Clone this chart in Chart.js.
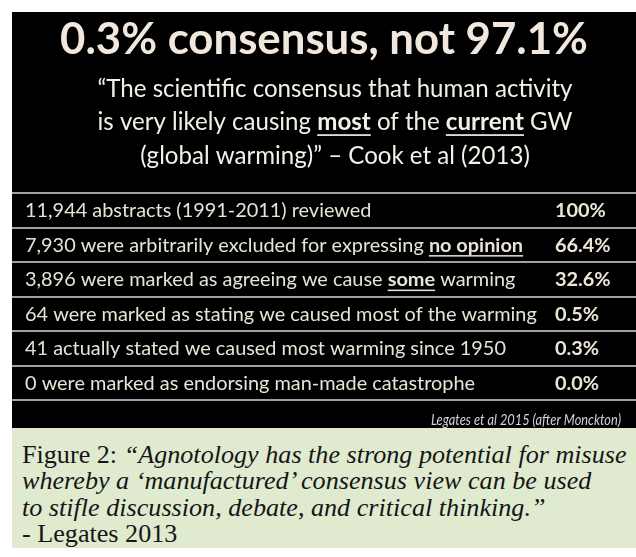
<!DOCTYPE html>
<html><head><meta charset="utf-8">
<script src="https://cdn.jsdelivr.net/npm/chart.js@4.4.1/dist/chart.umd.min.js"></script>
<style>
html,body{margin:0;padding:0;background:#fff;width:636px;height:557px;overflow:hidden}
#wrap{position:absolute;left:12px;top:12px;width:624px;height:416px;background:#000}
#cap{position:absolute;left:12px;top:428px;width:624px;height:120px;background:#dfeacf;box-sizing:border-box;padding:14px 0 0 10px;font-family:"Liberation Serif",serif;color:#161616;line-height:26.3px;white-space:nowrap}
</style></head><body>
<div id="wrap"><canvas id="c" width="624" height="416"></canvas></div>
<div id="cap"></div>
<script>
// ---- data ----
const titleText = '0.3% consensus, not 97.1%';
const subtitleLines = [
  '\u201CThe scientific consensus that human activity',
  'is very likely causing most of the current GW',
  '(global warming)\u201D \u2013 Cook et al (2013)'
];
const subtitleEmphasis = [[], ['most', 'current'], []];
const categories = [
  '11,944 abstracts (1991-2011) reviewed',
  '7,930 were arbitrarily excluded for expressing no opinion',
  '3,896 were marked as agreeing we cause some warming',
  '64 were marked as stating we caused most of the warming',
  '41 actually stated we caused most warming since 1950',
  '0 were marked as endorsing man-made catastrophe'
];
const rowEmphasis = [[], ['no opinion'], ['some'], [], [], []];
const percentValues = [100, 66.4, 32.6, 0.5, 0.3, 0.0];
const percentLabels = ['100%', '66.4%', '32.6%', '0.5%', '0.3%', '0.0%'];
const sourceNote = 'Legates et al 2015 (after Monckton)';
const captionLead = 'Figure 2: ';
const captionQuote = [
  '\u201CAgnotology has the strong potential for misuse',
  'whereby a \u2018manufactured\u2019 consensus view can be used',
  'to stifle discussion, debate, and critical thinking.\u201D'
];
const captionCredit = '- Legates 2013';

// ---- helpers ----
const canvas = document.getElementById('c');
const ctx0 = canvas.getContext('2d');
const SANS = 'Lato, "Open Sans", sans-serif';
function fit(text, font, target) {
  ctx0.font = font.replace('SZ', '20px');
  return 20 * target / ctx0.measureText(text).width;
}
const titleSize = fit(titleText, 'bold SZ ' + SANS, 528);
const subSize = fit(subtitleLines[0], 'SZ ' + SANS, 475);
const rowSize = fit(categories[3], 'SZ ' + SANS, 512);

function segments(line, words) {
  let segs = [{t: line, e: false}];
  words.forEach(w => {
    const out = [];
    segs.forEach(s => {
      if (s.e || s.t.indexOf(w) < 0) { out.push(s); return; }
      const i = s.t.indexOf(w);
      if (i > 0) out.push({t: s.t.slice(0, i), e: false});
      out.push({t: w, e: true});
      if (i + w.length < s.t.length) out.push({t: s.t.slice(i + w.length), e: false});
    });
    segs = out;
  });
  return segs;
}
function drawRich(ctx, segs, x, cy, align, size, color) {
  const fN = size + 'px ' + SANS, fB = 'bold ' + size + 'px ' + SANS;
  let total = 0;
  segs.forEach(s => { ctx.font = s.e ? fB : fN; s.w = ctx.measureText(s.t).width; total += s.w; });
  let cx = align === 'center' ? x - total / 2 : x;
  const base = cy + size * 0.36;
  ctx.fillStyle = color; ctx.strokeStyle = color;
  ctx.textAlign = 'left'; ctx.textBaseline = 'alphabetic';
  segs.forEach(s => {
    ctx.font = s.e ? fB : fN;
    ctx.fillText(s.t, cx, base);
    if (s.e) {
      ctx.fillRect(cx, base + size * 0.16, s.w, Math.max(1.5, size * 0.07));
    }
    cx += s.w;
  });
}

const tablePlugin = {
  id: 'tableText',
  afterDatasetsDraw(chart) {
    const ctx = chart.ctx, ys = chart.scales.y, area = chart.chartArea;
    ctx.save();
    // subtitle
    subtitleLines.forEach((l, i) => {
      drawRich(ctx, segments(l, subtitleEmphasis[i]), 323, 76 + i * 33.7, 'center', subSize, '#f3f0e8');
    });
    // rows
    categories.forEach((c, i) => {
      const y = ys.getPixelForValue(i);
      drawRich(ctx, segments(c, rowEmphasis[i]), 13, y, 'left', rowSize, '#e7e3d6');
      ctx.font = 'bold ' + rowSize + 'px ' + SANS;
      ctx.fillStyle = '#ece6d6';
      ctx.textAlign = 'left'; ctx.textBaseline = 'alphabetic';
      ctx.fillText(percentLabels[i], 543, y + rowSize * 0.36);
    });
    // source note (horizontally condensed to mimic the narrow original face)
    ctx.font = 'italic 15px ' + SANS;
    const nw = ctx.measureText(sourceNote).width;
    ctx.translate(609, area.bottom + 20);
    ctx.scale(190 / nw, 1);
    ctx.fillStyle = '#d4d4d4';
    ctx.textAlign = 'right'; ctx.textBaseline = 'middle';
    ctx.fillText(sourceNote, 0, 0);
    ctx.restore();
  }
};

const padTop = 28 - titleSize / 2;
new Chart(canvas, {
  type: 'bar',
  data: {labels: categories, datasets: [{data: percentValues, backgroundColor: 'rgba(0,0,0,0)', borderWidth: 0}]},
  options: {
    indexAxis: 'y', responsive: false, animation: false, devicePixelRatio: 1,
    layout: {padding: {top: 0, left: 0, right: 0, bottom: 28}},
    plugins: {
      legend: {display: false}, tooltip: {enabled: false},
      title: {display: true, text: titleText, color: '#f1e7dc',
        font: {family: SANS, weight: 'bold', size: titleSize, lineHeight: 1},
        padding: {top: padTop, bottom: 181 - padTop - titleSize}}
    },
    scales: {
      x: {display: false, min: 0, max: 100},
      y: {display: true, ticks: {display: false},
        grid: {color: '#a0a0a0', lineWidth: 2, offset: true, drawTicks: false},
        border: {display: false}}
    }
  },
  plugins: [tablePlugin]
});

// caption
ctx0.font = '20px "Liberation Serif"';
let w = ctx0.measureText(captionLead).width;
ctx0.font = 'italic 20px "Liberation Serif"';
w += ctx0.measureText(captionQuote[0]).width;
const capSize = 20 * 605 / w;
const cap = document.getElementById('cap');
cap.style.fontSize = capSize + 'px';
cap.innerHTML = captionLead + '<i>' + captionQuote.join('<br>') + '</i><br>' + captionCredit;
</script>
</body></html>
